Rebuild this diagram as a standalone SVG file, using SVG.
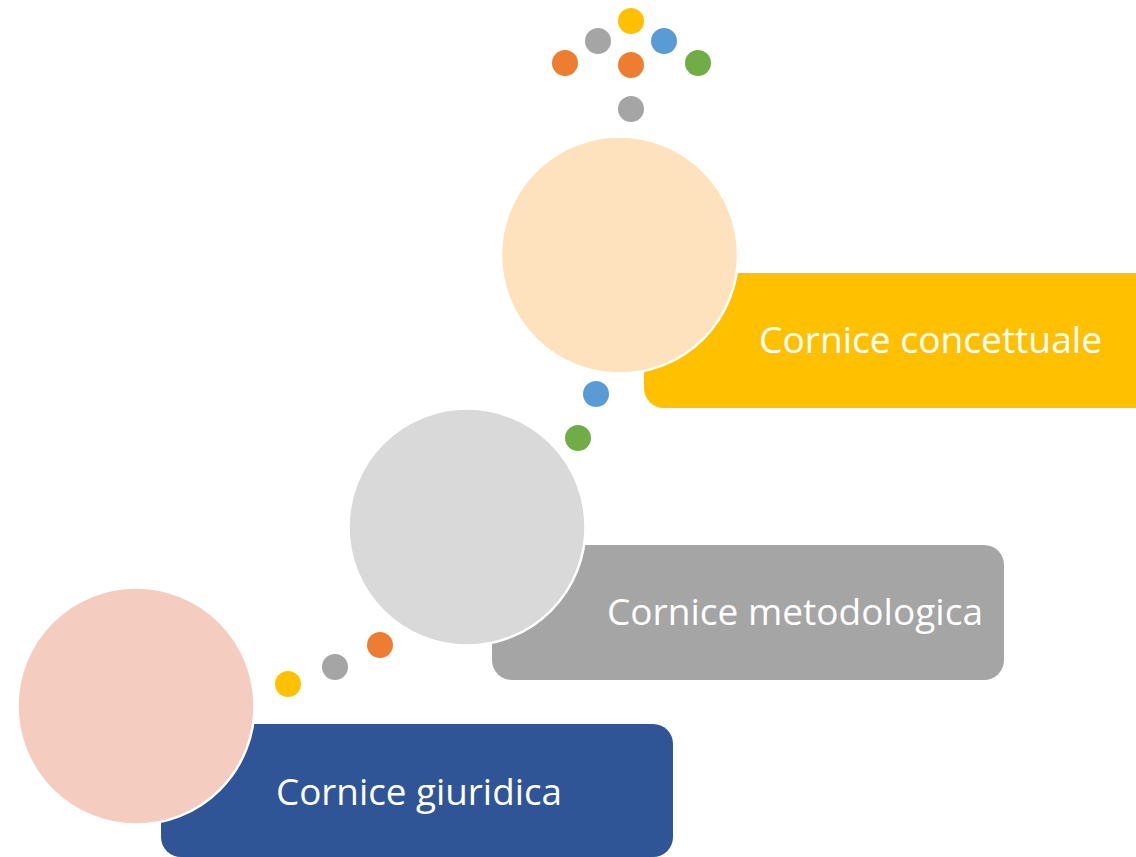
<svg xmlns="http://www.w3.org/2000/svg" width="1136" height="857" viewBox="0 0 1136 857">
<style>
.lbl{font-family:"Open Sans","Liberation Sans",sans-serif;font-size:37px;fill:#fff}
.big{stroke:#fff;stroke-width:2.5}
</style>
<rect width="1136" height="857" fill="#fff"/>
<g id="connectors">
<circle cx="631" cy="21" r="13" fill="#FFC000"/>
<circle cx="598" cy="41" r="13" fill="#A5A5A5"/>
<circle cx="664" cy="41" r="13" fill="#5B9BD5"/>
<circle cx="565" cy="63" r="13" fill="#ED7D31"/>
<circle cx="631" cy="65" r="13" fill="#ED7D31"/>
<circle cx="698" cy="63" r="13" fill="#70AD47"/>
<circle cx="631" cy="109" r="13" fill="#A5A5A5"/>
<circle cx="596" cy="394" r="13" fill="#5B9BD5"/>
<circle cx="578" cy="438" r="13" fill="#70AD47"/>
<circle cx="380" cy="645" r="13" fill="#ED7D31"/>
<circle cx="335" cy="667" r="13" fill="#A5A5A5"/>
<circle cx="288" cy="684" r="13" fill="#FFC000"/>
</g>
<g id="node-concettuale">
<rect x="644" y="273" width="520" height="135" rx="20" fill="#FFC000"/>
<circle class="big" cx="619.5" cy="255" r="118.5" fill="#FEE1BD"/>
<text class="lbl" x="759" y="353" textLength="343" lengthAdjust="spacingAndGlyphs">Cornice concettuale</text>
</g>
<g id="node-metodologica">
<rect x="492" y="545" width="512" height="135" rx="20" fill="#A5A5A5"/>
<circle class="big" cx="467" cy="527" r="118.5" fill="#D9D9D9"/>
<text class="lbl" x="607" y="625" textLength="376" lengthAdjust="spacingAndGlyphs">Cornice metodologica</text>
</g>
<g id="node-giuridica">
<rect x="161" y="724" width="512" height="133" rx="20" fill="#2F5597"/>
<circle class="big" cx="136" cy="706" r="118.5" fill="#F5CDC0"/>
<text class="lbl" x="276" y="805" textLength="286" lengthAdjust="spacingAndGlyphs">Cornice giuridica</text>
</g>
</svg>
